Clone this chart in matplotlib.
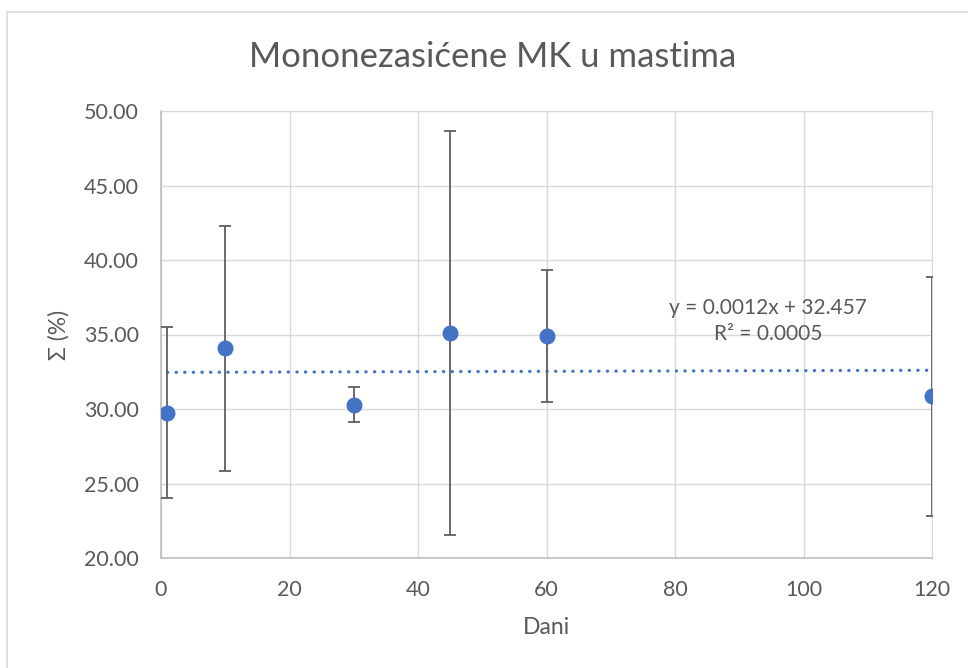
import matplotlib
matplotlib.use("Agg")
import matplotlib.pyplot as plt
from matplotlib.patches import Rectangle
import numpy as np

plt.rcParams['font.family'] = ['Lato', 'DejaVu Sans']

# data
dani = [1, 10, 30, 45, 60, 120]
suma = [29.76, 34.09, 30.29, 35.09, 34.91, 30.85]
greska = [5.76, 8.22, 1.17, 13.54, 4.45, 8.02]
nagib = 0.0012
presjek = 32.457
r2 = 0.0005

siva = '#595959'
plava = '#4472C4'

fig = plt.figure(figsize=(9.68, 6.68), dpi=100)
ax = fig.add_axes([161/968, 1 - 558/668, (932-161)/968, (558-111)/668])

# chart border (cropped on the right / bottom)
fig.patches.append(Rectangle((7/968, -0.1), 1.2, 1 - 12/668 + 0.1, transform=fig.transFigure,
                             fill=False, edgecolor='#d9d9d9', linewidth=1.2))

ax.grid(True, color='#d9d9d9', linewidth=1.0)
ax.set_axisbelow(True)

# trendline
xt = np.array([dani[0], dani[-1]])
ax.plot(xt, nagib * xt + presjek, color=plava, linewidth=2.3,
        linestyle=(0, (0.1, 2.6)), dash_capstyle='round', zorder=2)

ax.errorbar(dani, suma, yerr=greska, fmt='o', color=plava, markersize=10.5,
            ecolor='#5f5f5f', elinewidth=1.3, capsize=4.5, capthick=1.3, zorder=3)

ax.set_xlim(0, 120)
ax.set_ylim(20, 50)
ax.set_xticks(range(0, 121, 20))
ax.set_yticks(range(20, 51, 5))
ax.set_yticklabels(['%.2f' % v for v in range(20, 51, 5)])
ax.tick_params(length=0, labelsize=15.5, labelcolor=siva)
ax.tick_params(axis='y', pad=16)
ax.tick_params(axis='x', pad=16)

for s in ['top', 'right']:
    ax.spines[s].set_color('#d9d9d9')
for s in ['left', 'bottom']:
    ax.spines[s].set_color('#bfbfbf')
    ax.spines[s].set_linewidth(1.2)

ax.set_xlabel('Dani', fontsize=16.5, color=siva, labelpad=12)
ax.set_ylabel('Σ (%)', fontsize=16.5, color=siva, labelpad=10)

fig.text(493/968, 1 - 57/668, 'Mononezasićene MK u mastima', ha='center', va='center',
         fontsize=25, color=siva)

ax.text(94.5, 32.457 + (372 - 320.5) / 14.93, 'y = 0.0012x + 32.457\nR² = 0.0005',
        ha='center', va='center', fontsize=15, color=siva, linespacing=1.4)

fig.savefig('out.png', dpi=100)
